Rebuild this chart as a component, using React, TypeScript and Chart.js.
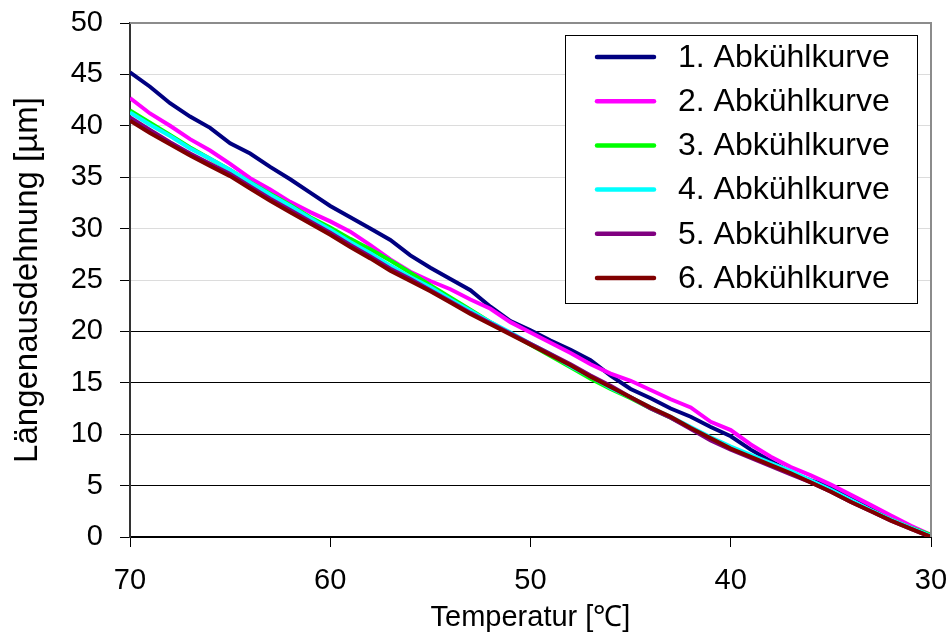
import React, { useEffect, useRef } from "react";
import { Chart, registerables } from "chart.js";

Chart.register(...registerables);

const temperatures = [70, 69, 68, 67, 66, 65, 64, 63, 62, 61, 60, 59, 58, 57, 56, 55, 54, 53, 52, 51, 50, 49, 48, 47, 46, 45, 44, 43, 42, 41, 40, 39, 38, 37, 36, 35, 34, 33, 32, 31, 30];

const curve1 = [45.2, 43.8, 42.2, 40.9, 39.8, 38.3, 37.3, 36.0, 34.8, 33.5, 32.2, 31.1, 30.0, 28.9, 27.4, 26.2, 25.1, 24.0, 22.4, 21.0, 20.1, 19.1, 18.2, 17.2, 15.7, 14.4, 13.5, 12.5, 11.7, 10.7, 9.8, 8.5, 7.4, 6.3, 5.5, 4.9, 4.0, 3.0, 2.0, 1.0, 0.1];
const curve2 = [42.7, 41.2, 40.0, 38.7, 37.6, 36.3, 34.9, 33.8, 32.6, 31.6, 30.7, 29.7, 28.4, 27.0, 25.8, 24.9, 24.1, 23.1, 22.2, 20.9, 19.9, 18.9, 17.9, 16.8, 15.9, 15.2, 14.3, 13.4, 12.6, 11.2, 10.4, 9.0, 7.8, 6.8, 6.0, 5.1, 4.1, 3.1, 2.1, 1.1, 0.2];
const curve3 = [41.5, 40.3, 39.1, 37.9, 36.8, 35.7, 34.5, 33.4, 32.3, 31.1, 30.1, 29.0, 28.0, 26.9, 25.7, 24.5, 23.3, 22.1, 20.9, 19.8, 18.7, 17.6, 16.5, 15.4, 14.4, 13.5, 12.5, 11.6, 10.6, 9.6, 8.7, 7.9, 7.1, 6.3, 5.4, 4.5, 3.5, 2.6, 1.7, 0.9, 0.2];
const curve4 = [41.3, 40.1, 39.0, 37.8, 36.8, 35.7, 34.5, 33.3, 32.2, 31.0, 29.9, 28.7, 27.6, 26.4, 25.3, 24.3, 23.1, 22.0, 20.9, 19.9, 18.8, 17.8, 16.6, 15.6, 14.5, 13.6, 12.6, 11.7, 10.7, 9.7, 8.8, 8.0, 7.2, 6.4, 5.5, 4.6, 3.6, 2.6, 1.7, 0.9, 0.1];
const curve5 = [40.8, 39.6, 38.4, 37.3, 36.3, 35.3, 34.1, 32.9, 31.8, 30.7, 29.6, 28.4, 27.3, 26.1, 25.1, 24.0, 22.9, 21.8, 20.8, 19.8, 18.8, 17.8, 16.8, 15.7, 14.7, 13.6, 12.5, 11.6, 10.5, 9.4, 8.5, 7.7, 6.9, 6.1, 5.3, 4.4, 3.4, 2.5, 1.6, 0.8, 0.0];
const curve6 = [40.5, 39.3, 38.2, 37.1, 36.1, 35.1, 33.9, 32.7, 31.6, 30.5, 29.4, 28.2, 27.1, 25.9, 24.9, 23.9, 22.8, 21.7, 20.7, 19.7, 18.7, 17.7, 16.7, 15.6, 14.6, 13.6, 12.6, 11.7, 10.6, 9.6, 8.6, 7.8, 7.0, 6.2, 5.3, 4.4, 3.4, 2.5, 1.6, 0.8, 0.0];

const seriesLabels = ["1. Abkühlkurve", "2. Abkühlkurve", "3. Abkühlkurve", "4. Abkühlkurve", "5. Abkühlkurve", "6. Abkühlkurve"];
const seriesValues = [curve1, curve2, curve3, curve4, curve5, curve6];
const seriesColors = ["#000080", "#FF00FF", "#00FF00", "#00FFFF", "#800080", "#800000"];

const xTitle = "Temperatur [℃]";
const yTitle = "Längenausdehnung [µm]";

const FONT = "'Liberation Sans', Arial, sans-serif";

const framePlugin = {
  id: "frame",
  afterDatasetsDraw(chart: any) {
    const { ctx, chartArea } = chart;
    ctx.save();
    ctx.strokeStyle = "#8c8c8c";
    ctx.lineWidth = 2;
    ctx.beginPath();
    ctx.moveTo(chartArea.left, chartArea.top);
    ctx.lineTo(chartArea.right, chartArea.top);
    ctx.lineTo(chartArea.right, chartArea.bottom);
    ctx.stroke();
    ctx.restore();
  },
};

const legendPlugin = {
  id: "boxLegend",
  afterDraw(chart: any) {
    const { ctx } = chart;
    const left = 565, top = 35, right = 917, bottom = 303;
    ctx.save();
    ctx.fillStyle = "#ffffff";
    ctx.fillRect(left, top, right - left, bottom - top);
    ctx.strokeStyle = "#000000";
    ctx.lineWidth = 1;
    ctx.strokeRect(left + 0.5, top + 0.5, right - left, bottom - top);
    ctx.font = `32px ${FONT}`;
    ctx.textBaseline = "middle";
    ctx.textAlign = "left";
    chart.data.datasets.forEach((ds: any, i: number) => {
      const y = 57 + i * 44.2;
      ctx.strokeStyle = ds.borderColor;
      ctx.lineWidth = 4.5;
      ctx.lineCap = "round";
      ctx.beginPath();
      ctx.moveTo(597, y);
      ctx.lineTo(654, y);
      ctx.stroke();
      ctx.fillStyle = "#000000";
      ctx.fillText(ds.label, 678, y + 1);
    });
    ctx.restore();
  },
};

export default function App() {
  const canvasRef = useRef<HTMLCanvasElement | null>(null);

  useEffect(() => {
    document.body.style.margin = "0";
    const canvas = canvasRef.current;
    if (!canvas) return;
    const datasets = seriesValues.map((vals, i) => ({
      label: seriesLabels[i],
      data: temperatures.map((t, j) => ({ x: t, y: vals[j] })),
      borderColor: seriesColors[i],
      backgroundColor: seriesColors[i],
      borderWidth: 4,
      pointRadius: 0,
      tension: 0,
      fill: false,
      order: 6 - i,
    }));
    const chart = new Chart(canvas, {
      type: "line",
      data: { datasets },
      plugins: [framePlugin, legendPlugin],
      options: {
        animation: false,
        responsive: true,
        maintainAspectRatio: false,
        layout: { padding: 0 },
        plugins: {
          legend: { display: false },
          tooltip: { enabled: false },
        },
        scales: {
          x: {
            type: "linear",
            reverse: true,
            min: 30,
            max: 70,
            ticks: {
              stepSize: 10,
              color: "#000",
              padding: 17,
              font: { family: FONT, size: 29 },
              maxRotation: 0,
            },
            grid: {
              drawOnChartArea: false,
              drawTicks: true,
              tickLength: 10,
              color: "#000",
              tickColor: "#000",
            },
            border: { display: true, color: "#000", width: 2 },
            title: {
              display: true,
              text: xTitle,
              color: "#000",
              font: { family: FONT, size: 29 },
              padding: { top: 0, bottom: 6 },
            },
            afterFit(scale: any) {
              scale.height = 104;
              scale.paddingLeft = 0;
              scale.paddingRight = 21;
            },
          },
          y: {
            min: 0,
            max: 50,
            ticks: {
              stepSize: 5,
              color: "#000",
              padding: 17,
              font: { family: FONT, size: 29 },
            },
            grid: {
              drawTicks: true,
              tickLength: 10,
              color: (c: any) => (c.tick && c.tick.value > 20 ? "#dcdcdc" : "#000000"),
              tickColor: "#000",
              lineWidth: 1,
            },
            border: { display: true, color: "#333", width: 2 },
            title: {
              display: true,
              text: yTitle,
              color: "#000",
              font: { family: FONT, size: 33 },
              padding: { top: 8, bottom: 0 },
            },
            afterFit(scale: any) {
              scale.width = 130;
              scale.paddingTop = 23;
              scale.paddingBottom = 0;
            },
          },
        },
      },
    });
    return () => chart.destroy();
  }, []);

  return (
    <div style={{ width: 952, height: 641, position: "relative" }}>
      <canvas ref={canvasRef} />
    </div>
  );
}
